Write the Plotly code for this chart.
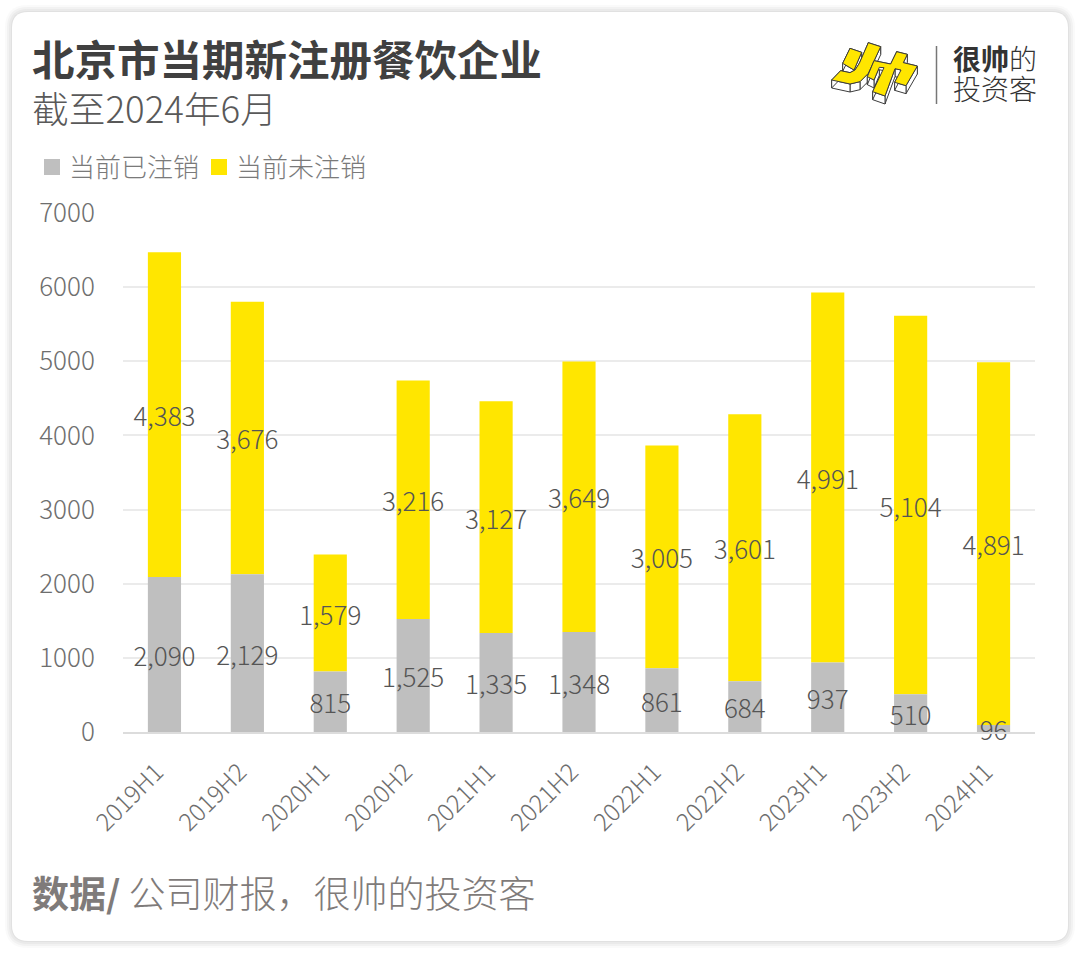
import plotly.graph_objects as go

periods = ['2019H1', '2019H2', '2020H1', '2020H2', '2021H1', '2021H2',
           '2022H1', '2022H2', '2023H1', '2023H2', '2024H1']
cancelled = [2090, 2129, 815, 1525, 1335, 1348, 861, 684, 937, 510, 96]
active = [4383, 3676, 1579, 3216, 3127, 3649, 3005, 3601, 4991, 5104, 4891]
y_ticks = [0, 1000, 2000, 3000, 4000, 5000, 6000, 7000]

W, H = 1080, 953
# plot area in page pixels
L, R, T, B = 123, 1035, 213, 732
CJK = 'Noto Sans CJK SC'
GREY = '#BFBFBF'
YELLOW = '#FFE600'
LABEL_FONT = dict(family=CJK, size=26, color='#555555', weight=300)
TICK_FONT = dict(family=CJK, size=26, color='#6e6e6e', weight=300)


def px(x):
    return (x - L) / (R - L)


def py(y):
    return (B - y) / (B - T)


def rounded(x0, y0, x1, y1, r):
    # rounded rectangle, page pixels -> paper coords
    pts = [f'M{px(x0 + r)},{py(y0)}', f'L{px(x1 - r)},{py(y0)}',
           f'Q{px(x1)},{py(y0)} {px(x1)},{py(y0 + r)}', f'L{px(x1)},{py(y1 - r)}',
           f'Q{px(x1)},{py(y1)} {px(x1 - r)},{py(y1)}', f'L{px(x0 + r)},{py(y1)}',
           f'Q{px(x0)},{py(y1)} {px(x0)},{py(y1 - r)}', f'L{px(x0)},{py(y0 + r)}',
           f'Q{px(x0)},{py(y0)} {px(x0 + r)},{py(y0)}', 'Z']
    return ' '.join(pts)


def logo_pt(a, b):
    # logo points are read from the 3x zoom at (800, 20)
    return 800 + a / 3, 20 + b / 3


def poly(points):
    return 'M' + ' L'.join(f'{px(a)},{py(b)}' for a, b in points) + ' Z'


def text(x, y, s, size, color, weight=None):
    font = dict(family=CJK, size=size, color=color)
    if weight:
        font['weight'] = weight
    return dict(xref='paper', yref='paper', x=px(x), y=py(y), text=s, showarrow=False,
                xanchor='left', yanchor='middle', font=font, borderpad=0, borderwidth=0)


def box(x0, y0, x1, y1, color):
    return dict(type='rect', xref='paper', yref='paper', x0=px(x0), x1=px(x1),
                y0=py(y0), y1=py(y1), fillcolor=color, line=dict(width=0))


shapes = []
# card shadow
for grow, alpha in [(7, 0.08), (5, 0.12), (3, 0.16), (1, 0.2)]:
    shapes.append(dict(type='path', xref='paper', yref='paper', layer='below',
                       path=rounded(12 - grow, 12 - grow, 1068 + grow, 941 + grow, 16 + grow),
                       fillcolor=f'rgba(190,190,190,{alpha})', line=dict(width=0)))
shapes.append(dict(type='path', xref='paper', yref='paper', layer='below',
                   path=rounded(12, 12, 1068, 941, 16),
                   fillcolor='white', line=dict(width=0)))

# logo: yellow tops with a white extruded side
logo_tops = [
    [(150, 85), (185, 97), (162, 150), (128, 130)],
    [(205, 68), (242, 80), (205, 160), (180, 185), (150, 192), (95, 180), (122, 152),
     (150, 158), (165, 150), (178, 130)],
    [(290, 95), (322, 103), (310, 128), (352, 138), (318, 197), (284, 187), (303, 150),
     (285, 146), (255, 228), (218, 215), (252, 143), (238, 142), (222, 180), (202, 170),
     (222, 122), (272, 132)],
]
DEPTH = 8
LOGO_LINE = dict(color='#3c3c3c', width=1)
for top in logo_tops:
    pts = [logo_pt(a, b) for a, b in top]
    for (x0, y0), (x1, y1) in zip(pts, pts[1:] + pts[:1]):
        shapes.append(dict(type='path', xref='paper', yref='paper', fillcolor='white', line=LOGO_LINE,
                           path=poly([(x0, y0), (x1, y1), (x1, y1 + DEPTH), (x0, y0 + DEPTH)])))
for top in logo_tops:
    shapes.append(dict(type='path', xref='paper', yref='paper', fillcolor=YELLOW, line=LOGO_LINE,
                       path=poly([logo_pt(a, b) for a, b in top])))
shapes.append(dict(type='line', xref='paper', yref='paper', x0=px(936.5), x1=px(936.5),
                   y0=py(46), y1=py(104), line=dict(color='#777777', width=1.5)))

# legend swatches
shapes.append(box(44, 159, 60, 175, GREY))
shapes.append(box(211, 159, 227, 175, YELLOW))

annotations = [
    text(32, 58, '<b>北京市当期新注册餐饮企业</b>', 42.5, '#404040'),
    text(32, 107, '截至2024年6月', 36.7, '#595959', weight=300),
    text(69, 165, '当前已注销', 26, '#7a7a7a', weight=300),
    text(236, 165, '当前未注销', 26, '#7a7a7a', weight=300),
    text(953, 58, '<b>很帅</b>的', 28, '#333333', weight=300),
    text(953, 88, '投资客', 28, '#333333', weight=300),
    text(32, 892, '<b>数据/</b> 公司财报，很帅的投资客', 37, '#7f7b7a', weight=300),
]

fig = go.Figure()
# yellow goes first with an explicit base, so the grey labels stay on top of it
fig.add_trace(go.Bar(x=periods, y=active, base=cancelled, name='当前未注销', marker_color=YELLOW,
                     width=0.4, text=[f'{v:,}' for v in active]))
fig.add_trace(go.Bar(x=periods, y=cancelled, name='当前已注销', marker_color=GREY,
                     width=0.4, text=[f'{v:,}' for v in cancelled]))
fig.update_traces(textposition='inside', insidetextanchor='middle', textangle=0,
                  constraintext='none', insidetextfont=LABEL_FONT,
                  marker_line_width=0, cliponaxis=False)

fig.update_layout(
    width=W, height=H, barmode='overlay', autosize=False, showlegend=False,
    margin=dict(l=L, r=W - R, t=T, b=H - B, pad=0),
    paper_bgcolor='white', plot_bgcolor='rgba(0,0,0,0)',
    font=dict(family=CJK),
    shapes=shapes, annotations=annotations,
)
fig.update_xaxes(type='category', range=[-0.5, 10.5], tickangle=-45, tickfont=dict(TICK_FONT, size=24.5),
                 ticklabelshift=-8, ticklabelstandoff=14,
                 showline=True, linecolor='#dcdcdc', linewidth=2, ticks='', showgrid=False)
fig.update_yaxes(range=[0, 7001], tickvals=y_ticks, tickfont=TICK_FONT,
                 showgrid=True, gridcolor='#ebebeb', gridwidth=1.5, zeroline=False,
                 ticks='outside', ticklen=22, tickcolor='rgba(0,0,0,0)', showline=False)

fig.write_html('out.html', config={'displayModeBar': False},
               post_script="document.body.style.margin='0';document.body.style.overflow='hidden';")
